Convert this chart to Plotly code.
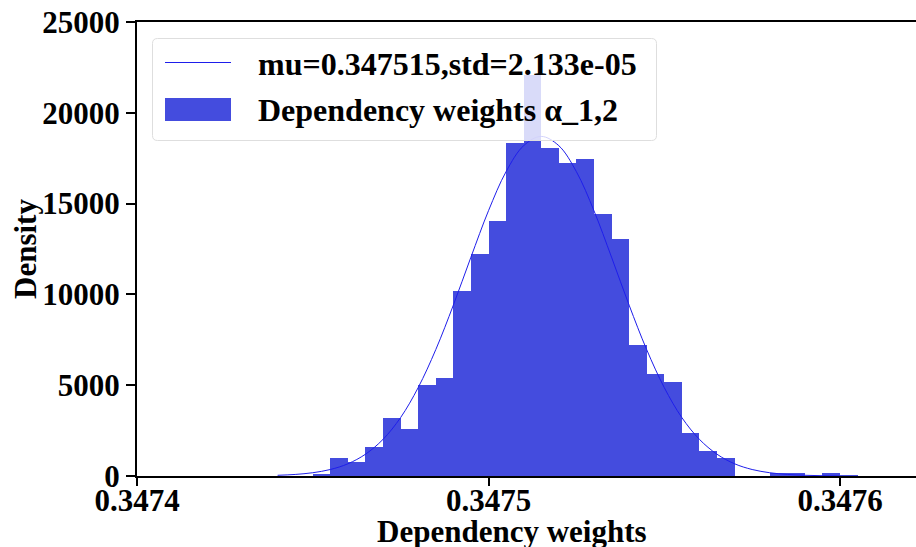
import plotly.graph_objects as go

# ---- data ----
bin_starts = [0.347450, 0.347455, 0.347460, 0.347465, 0.347470, 0.347475, 0.347480,
              0.347485, 0.347490, 0.347495, 0.347500, 0.347505, 0.347510, 0.347515,
              0.347520, 0.347525, 0.347530, 0.347535, 0.347540, 0.347545, 0.347550,
              0.347555, 0.347560, 0.347565, 0.347570, 0.347575, 0.347580, 0.347585,
              0.347590, 0.347595, 0.347600]
bin_heights = [100, 975, 790, 1580, 3180, 2570, 5010,
               5380, 10200, 12210, 14030, 18350, 22100, 18040,
               17250, 17440, 14410, 13030, 7210, 5600, 5190,
               2390, 1380, 970, 0, 0, 160, 160,
               0, 160, 50]
bin_width = 0.000005

curve_x = [0.347440, 0.347445, 0.347450, 0.347455, 0.347460, 0.347465, 0.347470,
           0.347475, 0.347480, 0.347485, 0.347490, 0.347495, 0.347500, 0.347505,
           0.347510, 0.347515, 0.347520, 0.347525, 0.347530, 0.347535, 0.347540,
           0.347545, 0.347550, 0.347555, 0.347560, 0.347565, 0.347570, 0.347575,
           0.347580, 0.347585, 0.347590, 0.347595, 0.347600]
curve_y = [39, 86, 180, 358, 673, 1200, 2020,
           3220, 4870, 6960, 9410, 12050, 14610, 16760,
           18190, 18700, 18190, 16760, 14610, 12050, 9410,
           6960, 4870, 3220, 2020, 1200, 673, 358,
           180, 86, 39, 16, 6]

x_tick_vals = [0.3474, 0.3475, 0.3476]
x_tick_text = ["0.3474", "0.3475", "0.3476"]
y_tick_vals = [0, 5000, 10000, 15000, 20000, 25000]
y_tick_text = ["0", "5000", "10000", "15000", "20000", "25000"]

label_line = "mu=0.347515,std=2.133e-05"
label_bar = "Dependency weights α_1,2"
x_title = "Dependency weights"
y_title = "Density"

# ---- styles ----
BAR_COLOR = "rgb(68,76,222)"
LINE_COLOR = "rgb(30,30,235)"
FONT = "Liberation Serif"
W, H = 916, 547
ML, MT, MB, MR = 137, 22, 71, 0
PW, PH = W - ML - MR, H - MT - MB

bin_centers = [s + bin_width / 2 for s in bin_starts]

fig = go.Figure()
fig.add_trace(go.Bar(x=bin_centers, y=bin_heights, width=[bin_width] * len(bin_starts),
                     marker=dict(color=BAR_COLOR, line=dict(width=0)),
                     name=label_bar, showlegend=False))
fig.add_trace(go.Scatter(x=curve_x, y=curve_y, mode="lines",
                         line=dict(color=LINE_COLOR, width=1, shape="spline"),
                         name=label_line, showlegend=False))


def px_x(p):
    return (p - ML) / PW


def px_y(p):
    return (H - MB - p) / PH


# custom legend box (rounded, semi-transparent)
x0, x1, y0, y1, r = 152.5, 656.5, 38.5, 140.5, 5
path = (f"M {px_x(x0 + r)} {px_y(y0)} L {px_x(x1 - r)} {px_y(y0)} "
        f"Q {px_x(x1)} {px_y(y0)} {px_x(x1)} {px_y(y0 + r)} "
        f"L {px_x(x1)} {px_y(y1 - r)} Q {px_x(x1)} {px_y(y1)} {px_x(x1 - r)} {px_y(y1)} "
        f"L {px_x(x0 + r)} {px_y(y1)} Q {px_x(x0)} {px_y(y1)} {px_x(x0)} {px_y(y1 - r)} "
        f"L {px_x(x0)} {px_y(y0 + r)} Q {px_x(x0)} {px_y(y0)} {px_x(x0 + r)} {px_y(y0)} Z")
shapes = [
    dict(type="path", path=path, xref="paper", yref="paper", layer="above",
         fillcolor="rgba(255,255,255,0.8)", line=dict(color="rgb(222,222,222)", width=1)),
    dict(type="line", xref="paper", yref="paper", layer="above",
         x0=px_x(165), x1=px_x(231), y0=px_y(62.5), y1=px_y(62.5),
         line=dict(color=LINE_COLOR, width=1)),
    dict(type="rect", xref="paper", yref="paper", layer="above",
         x0=px_x(165), x1=px_x(231), y0=px_y(121), y1=px_y(98),
         fillcolor=BAR_COLOR, line=dict(width=0)),
]
leg_font = dict(family=FONT, size=32, color="black", weight="bold")
axis_font = dict(family=FONT, size=31, color="black", weight="bold")
annotations = [
    dict(text=label_line, xref="paper", yref="paper", x=px_x(256), y=px_y(64),
         xanchor="left", yanchor="middle", showarrow=False, font=leg_font),
    dict(text=label_bar, xref="paper", yref="paper", x=px_x(256), y=px_y(110),
         xanchor="left", yanchor="middle", showarrow=False, font=leg_font),
    # axis titles (placed like the reference; the bottom one sits at the page edge)
    dict(text=x_title, xref="paper", yref="paper", x=px_x(512), y=px_y(512),
         xanchor="center", yanchor="top", showarrow=False, font=axis_font),
    dict(text=y_title, xref="paper", yref="paper", x=px_x(25), y=0.5,
         xanchor="center", yanchor="middle", textangle=-90, showarrow=False, font=axis_font),
]

fig.update_layout(
    width=W, height=H,
    margin=dict(l=ML, r=MR, t=MT, b=MB, pad=0),
    plot_bgcolor="white", paper_bgcolor="white",
    bargap=0, showlegend=False,
    shapes=shapes, annotations=annotations,
    xaxis=dict(range=[0.3474, 0.3474 + 0.0001 * PW / 351.5],
               tickvals=x_tick_vals, ticktext=x_tick_text,
               showline=True, linecolor="black", linewidth=2, mirror=True,
               ticks="outside", ticklen=8, tickwidth=2, tickcolor="black",
               showgrid=False, zeroline=False, tickfont=axis_font,
               ticklabelstandoff=-12, automargin=False),
    yaxis=dict(range=[0, 25000],
               tickvals=y_tick_vals, ticktext=y_tick_text,
               showline=True, linecolor="black", linewidth=2,
               ticks="outside", ticklen=9, tickwidth=2, tickcolor="black",
               showgrid=False, zeroline=False, tickfont=axis_font,
               automargin=False),
)

fig.write_html("out.html")
